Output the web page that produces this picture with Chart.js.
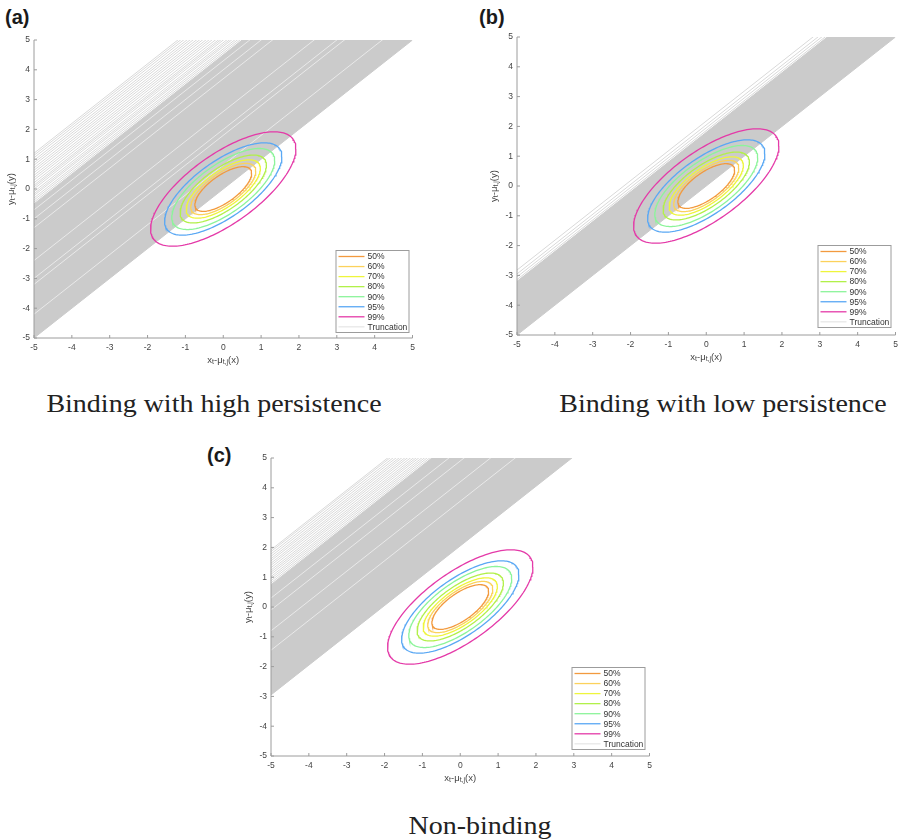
<!DOCTYPE html>
<html>
<head>
<meta charset="utf-8">
<script src="https://cdn.jsdelivr.net/npm/chart.js@4.4.1/dist/chart.umd.min.js"></script>
<style>
  html, body { margin: 0; padding: 0; background: #fff; }
  body { width: 901px; height: 839px; position: relative; overflow: hidden; }
  .panel { position: absolute; }
  .tag { position: absolute; font: bold 20px "Liberation Sans", Arial, sans-serif; color: #1a1a1a; line-height: 1; }
  .caption { position: absolute; font-family: "Liberation Serif", serif; font-size: 25px; line-height: 1;
             color: #222; white-space: nowrap; transform: translateX(-50%) scaleX(1.12); }
</style>
</head>
<body>
<div class="tag" style="left:5px;top:7px">(a)</div>
<div class="tag" style="left:479px;top:7px">(b)</div>
<div class="tag" style="left:207px;top:445px">(c)</div>

<div class="panel" style="left:-6px;top:28px"><canvas id="chartA" width="431" height="350"></canvas></div>
<div class="panel" style="left:477px;top:25px"><canvas id="chartB" width="431" height="350"></canvas></div>
<div class="panel" style="left:231px;top:446px"><canvas id="chartC" width="431" height="350"></canvas></div>

<div class="caption" style="left:214px;top:391px">Binding with high persistence</div>
<div class="caption" style="left:723px;top:391px">Binding with low persistence</div>
<div class="caption" style="left:480px;top:813px">Non-binding</div>

<script>
// probability contours of the joint density
const levels = ['50%', '60%', '70%', '80%', '90%', '95%', '99%'];
const levelColors = ['#f29a3e', '#fbd25c', '#eef53c', '#b2f04a', '#8cf49a', '#5aa8f4', '#e43aa8'];
const levelHalfWidth = [0.75, 0.86, 0.98, 1.14, 1.36, 1.55, 1.92];
const contourCorr = 0.7;

// truncation bounds y = x + c : dense band [lo, hi], loose lines above it, pale lines inside it
const bandA = [0, 4.5];
const edgeLinesA = [4.56, 4.63, 4.7, 4.78, 4.84, 4.91, 5.0, 5.07, 5.13, 5.21, 5.3, 5.38, 5.46, 5.55, 5.63, 5.71, 5.8, 5.88, 5.96, 6.05, 6.13, 6.2];
const paleLinesA = [0.8, 1.8, 2.0, 2.6, 3.7, 4.0, 4.3];

const bandB = [0, 1.8];
const edgeLinesB = [1.86, 1.95, 2.05, 2.18];
const paleLinesB = [];

const bandC = [2.05, 5.75];
const edgeLinesC = [5.81, 5.88, 5.95, 6.02, 6.1, 6.17, 6.24, 6.32, 6.4, 6.47, 6.55, 6.62, 6.7, 6.78, 6.86, 6.92];
const paleLinesC = [3.55, 4.2, 4.9, 5.3];

const axisTicks = [-5, -4, -3, -2, -1, 0, 1, 2, 3, 4, 5];

const bandGrey = '#cbcbcb';
const edgeGrey = '#d9d9d9';
const paleGrey = '#e9e9e9';
const axisGrey = '#9c9c9c';
const FONT = '"Liberation Sans", Arial, sans-serif';

function lineThrough(c) {
  return [{ x: -5, y: -5 + c }, { x: 5, y: 5 + c }];
}

function contour(h) {
  const pts = [];
  const s = Math.sqrt(1 - contourCorr * contourCorr);
  for (let i = 0; i <= 180; i++) {
    const t = (i / 180) * 2 * Math.PI;
    pts.push({ x: h * Math.cos(t), y: h * (contourCorr * Math.cos(t) + s * Math.sin(t)) });
  }
  return pts;
}

// axis lines with inward tick marks
const boxAxes = {
  id: 'boxAxes',
  afterDatasetsDraw(chart) {
    const { ctx, chartArea: a, scales } = chart;
    ctx.save();
    ctx.strokeStyle = axisGrey;
    ctx.lineWidth = 1;
    ctx.beginPath();
    ctx.moveTo(a.left, a.top);
    ctx.lineTo(a.left, a.bottom);
    ctx.lineTo(a.right, a.bottom);
    axisTicks.forEach(v => {
      const px = scales.x.getPixelForValue(v);
      ctx.moveTo(px, a.bottom);
      ctx.lineTo(px, a.bottom - 3);
      const py = scales.y.getPixelForValue(v);
      ctx.moveTo(a.left, py);
      ctx.lineTo(a.left + 3, py);
    });
    ctx.stroke();
    ctx.restore();
  }
};

function drawSubscripted(ctx, parts, cx, cy) {
  const big = '9.5px ' + FONT, small = '7px ' + FONT;
  let total = 0;
  parts.forEach(([t, sub]) => { ctx.font = sub ? small : big; total += ctx.measureText(t).width; });
  let x = cx - total / 2;
  ctx.textBaseline = 'middle';
  ctx.textAlign = 'left';
  parts.forEach(([t, sub]) => {
    ctx.font = sub ? small : big;
    ctx.fillText(t, x, sub ? cy + 2.5 : cy);
    x += ctx.measureText(t).width;
  });
}

const axisTitles = {
  id: 'axisTitles',
  afterDraw(chart) {
    const { ctx, chartArea: a } = chart;
    ctx.save();
    ctx.fillStyle = '#444';
    drawSubscripted(ctx, [['x', 0], ['t', 1], ['-', 0], ['\u03bc', 0], ['t,j', 1], ['(x)', 0]],
      (a.left + a.right) / 2, a.bottom + 22);
    ctx.translate(a.left - 23, (a.top + a.bottom) / 2);
    ctx.rotate(-Math.PI / 2);
    drawSubscripted(ctx, [['y', 0], ['t', 1], ['-', 0], ['\u03bc', 0], ['t,j', 1], ['(y)', 0]], 0, 0);
    ctx.restore();
  }
};

const boxLegend = {
  id: 'boxLegend',
  afterDraw(chart, args, opts) {
    const { ctx, chartArea: a } = chart;
    const w = 74, h = 83;
    const left = a.right - opts.right - w;
    const top = a.bottom - opts.bottom - h;
    const items = levels.map((l, i) => [l, levelColors[i], 1.3]).concat([['Truncation', '#e0e0e0', 1]]);
    ctx.save();
    ctx.fillStyle = '#fff';
    ctx.fillRect(left, top, w, h);
    ctx.strokeStyle = axisGrey;
    ctx.lineWidth = 1;
    ctx.strokeRect(left + 0.5, top + 0.5, w - 1, h - 1);
    ctx.font = '8.5px ' + FONT;
    ctx.textBaseline = 'middle';
    items.forEach(([label, color, lw], i) => {
      const y = top + 6.5 + i * 10.05;
      ctx.strokeStyle = color;
      ctx.lineWidth = lw;
      ctx.beginPath();
      ctx.moveTo(left + 3, y);
      ctx.lineTo(left + 29, y);
      ctx.stroke();
      ctx.fillStyle = '#333';
      ctx.fillText(label, left + 32, y + 0.5);
    });
    ctx.restore();
  }
};

function makeChart(id, band, edgeLines, paleLines, legendInset) {
  const datasets = [];
  levels.forEach((label, i) => {
    datasets.push({ label, data: contour(levelHalfWidth[i]), borderColor: levelColors[i], borderWidth: 1.3, order: 0 });
  });
  datasets.push({ label: 'band low', data: lineThrough(band[0]), borderColor: bandGrey, borderWidth: 1, order: 3 });
  datasets.push({ label: 'Truncation', data: lineThrough(band[1]), borderColor: bandGrey, borderWidth: 1,
                  backgroundColor: bandGrey, fill: '-1', order: 3 });
  edgeLines.forEach(c => datasets.push({ data: lineThrough(c), borderColor: edgeGrey, borderWidth: 1, order: 2 }));
  paleLines.forEach(c => datasets.push({ data: lineThrough(c), borderColor: paleGrey, borderWidth: 1, order: 1 }));

  const tickFont = { size: 8.5, family: FONT };
  return new Chart(document.getElementById(id), {
    type: 'scatter',
    data: { datasets },
    options: {
      responsive: false,
      animation: false,
      showLine: true,
      elements: { point: { radius: 0, hoverRadius: 0 }, line: { tension: 0 } },
      layout: { padding: { top: 12, right: 12.5, bottom: 0, left: 0 } },
      plugins: { legend: { display: false }, tooltip: { enabled: false }, boxLegend: legendInset },
      scales: {
        x: {
          type: 'linear', min: -5, max: 5,
          ticks: { stepSize: 1, font: tickFont, color: '#444', padding: 5, maxRotation: 0, autoSkip: false },
          grid: { display: false, drawTicks: false },
          border: { display: false },
          afterFit(s) { s.height = 40; }
        },
        y: {
          type: 'linear', min: -5, max: 5,
          ticks: { stepSize: 1, font: tickFont, color: '#444', padding: 4, autoSkip: false },
          grid: { display: false, drawTicks: false },
          border: { display: false },
          afterFit(s) { s.width = 40; }
        }
      }
    },
    plugins: [boxAxes, axisTitles, boxLegend]
  });
}

makeChart('chartA', bandA, edgeLinesA, paleLinesA, { right: 3, bottom: 5 });
makeChart('chartB', bandB, edgeLinesB, paleLinesB, { right: 4, bottom: 7 });
makeChart('chartC', bandC, edgeLinesC, paleLinesC, { right: 4, bottom: 6 });
</script>
</body>
</html>
